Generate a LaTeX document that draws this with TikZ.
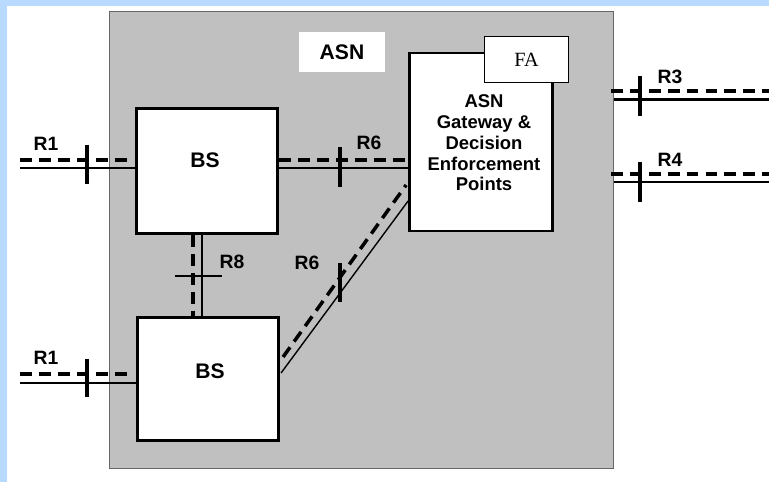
\documentclass[tikz,border=0pt]{standalone}
\usepackage{fontspec}
\setmainfont{Liberation Sans}
\newfontfamily\timesfont{Liberation Serif}
\usepackage{tikz}
\usetikzlibrary{positioning,calc}
\definecolor{pageblue}{RGB}{184,218,255}
\definecolor{asngray}{RGB}{192,192,192}
\tikzstyle{unit} = [draw=black, line width=1.8pt, fill=white, inner sep=0pt]
\tikzstyle{gate} = [draw=black, line width=1.6pt, fill=white, inner sep=0pt]
\tikzstyle{fabox} = [draw=black, line width=0.8pt, fill=white, inner sep=0pt, font=\timesfont\fontsize{11.5}{11.5}\selectfont]
\tikzstyle{solidlink} = [line width=1.4pt]
\tikzstyle{thinlink} = [line width=0.8pt]
\tikzstyle{dashlink} = [line width=2pt, dash pattern=on 6.8pt off 4pt]
\tikzstyle{tick} = [line width=2pt]
\tikzstyle{rlabel} = [font=\bfseries\fontsize{11}{11}\selectfont]
\tikzstyle{bigtext} = [font=\bfseries\fontsize{12}{12}\selectfont]

\begin{document}
\begin{tikzpicture}[x=0.02cm, y=-0.02cm]
                    \useasboundingbox (0,0) rectangle (769,482);
                    \fill [pageblue] (0,0) rectangle (769,482);
                    \fill [white] (7,6) rectangle (769,482);
                    % access service network
                    \node [draw=black!60, line width=0.8pt, fill=asngray, minimum width=10.08cm, minimum height=9.14cm] (asn) at (361.5,240) {};
                    \node [bigtext, fill=white, minimum width=1.72cm, minimum height=0.8cm] (asnlabel) at (342,52) {ASN};
                    % boxes are placed first as names, drawn again on top below
                    \node [unit, minimum width=2.82cm, minimum height=2.5cm] (bsA) at (207,171) {};
                    \node [unit, minimum width=2.82cm, minimum height=2.46cm] (bsB) at (208,379) {};
                    \node [gate, minimum width=2.86cm, minimum height=3.56cm] (gw) at (481,142) {};
                    % R1 upper
                    \coordinate (r1aIn) at (20,168);
                    \coordinate (r1aDash) at (20,160);
                    \draw [solidlink] (r1aIn) -- (bsA.west |- r1aIn);
                    \draw [dashlink] (r1aDash) -- ([xshift=-4.5pt]bsA.west |- r1aDash);
                    \coordinate (t1) at (87,165);
                    \draw [tick] ($(t1)+(0,-20)$) -- ($(t1)+(0,19)$);
                    \node [rlabel] (r1a) at (46,144) {R1};
                    % R1 lower
                    \coordinate (r1bIn) at (20,383);
                    \coordinate (r1bDash) at (20,374);
                    \draw [thinlink] (r1bIn) -- (bsB.west |- r1bIn);
                    \draw [dashlink] (r1bDash) -- ([xshift=-4.5pt]bsB.west |- r1bDash);
                    \coordinate (t2) at (87,378);
                    \draw [tick] ($(t2)+(0,-19)$) -- ($(t2)+(0,19)$);
                    \node [rlabel] (r1b) at (46,358) {R1};
                    % R6 to gateway
                    \draw [solidlink] ($(bsA.east)+(0,-3)$) -- ($(gw.west)+(0,26)$);
                    \draw [dashlink] ($(bsA.east)+(0,-11)$) -- ($(gw.west)+(0,18)$);
                    \coordinate (t3) at (340,166);
                    \draw [tick] ($(t3)+(0,-19)$) -- ($(t3)+(0,21)$);
                    \node [rlabel] (r6a) at (369,143) {R6};
                    \draw [thinlink] ($(bsB.east)+(1,-6)$) -- ($(gw.west)+(0,59)$);
                    \draw [dashlink] ($(bsB.east)+(3,-22)$) -- ($(gw.west)+(-2,43)$);
                    \coordinate (t4) at (340,282);
                    \draw [tick] ($(t4)+(0,-19)$) -- ($(t4)+(0,20)$);
                    \node [rlabel] (r6b) at (307,263) {R6};
                    % R8 between base stations
                    \draw [solidlink] ($(bsA.south)+(-5,0)$) -- ($(bsB.north)+(-6,0)$);
                    \draw [dashlink] ($(bsA.south)+(-14,0)$) -- ($(bsB.north)+(-15,0)$);
                    \coordinate (t5) at (198,276);
                    \draw [tick, line width=1.3pt] ($(t5)+(-23,0)$) -- ($(t5)+(24,0)$);
                    \node [rlabel] (r8) at (232,262) {R8};
                    % R3 and R4 leave the ASN
                    \coordinate (r3out) at (769,100);
                    \coordinate (r3dash) at (769,91);
                    \draw [solidlink, line width=1.7pt] (asn.east |- r3out) -- (r3out);
                    \draw [dashlink] ([xshift=-2pt]asn.east |- r3dash) -- (r3dash);
                    \coordinate (t6) at (640,96);
                    \draw [tick] ($(t6)+(0,-20)$) -- ($(t6)+(0,20)$);
                    \node [rlabel] (r3) at (670,77) {R3};
                    \coordinate (r4out) at (769,182);
                    \coordinate (r4dash) at (769,174);
                    \draw [solidlink] (asn.east |- r4out) -- (r4out);
                    \draw [dashlink] ([xshift=-2pt]asn.east |- r4dash) -- (r4dash);
                    \coordinate (t7) at (640,182);
                    \draw [tick] ($(t7)+(0,-20)$) -- ($(t7)+(0,20)$);
                    \node [rlabel] (r4) at (670,160) {R4};
                    % boxes on top
                    \node [unit, minimum width=2.82cm, minimum height=2.5cm] at (bsA) {};
                    \node [unit, minimum width=2.82cm, minimum height=2.46cm] at (bsB) {};
                    \node [bigtext] (bsAtext) at (205,160) {BS};
                    \node [bigtext] (bsBtext) at (210,371) {BS};
                    \node [gate, minimum width=2.86cm, minimum height=3.56cm] at (gw) {};
                    \node [font=\bfseries\fontsize{10.5}{11.8}\selectfont, align=center] (gwtext) at (484,143) {ASN\\Gateway \&\\Decision\\Enforcement\\Points};
                    \node [fabox, minimum width=1.68cm, minimum height=0.92cm] (fa) at (526.5,59.5) {FA};
\end{tikzpicture}
\end{document}
